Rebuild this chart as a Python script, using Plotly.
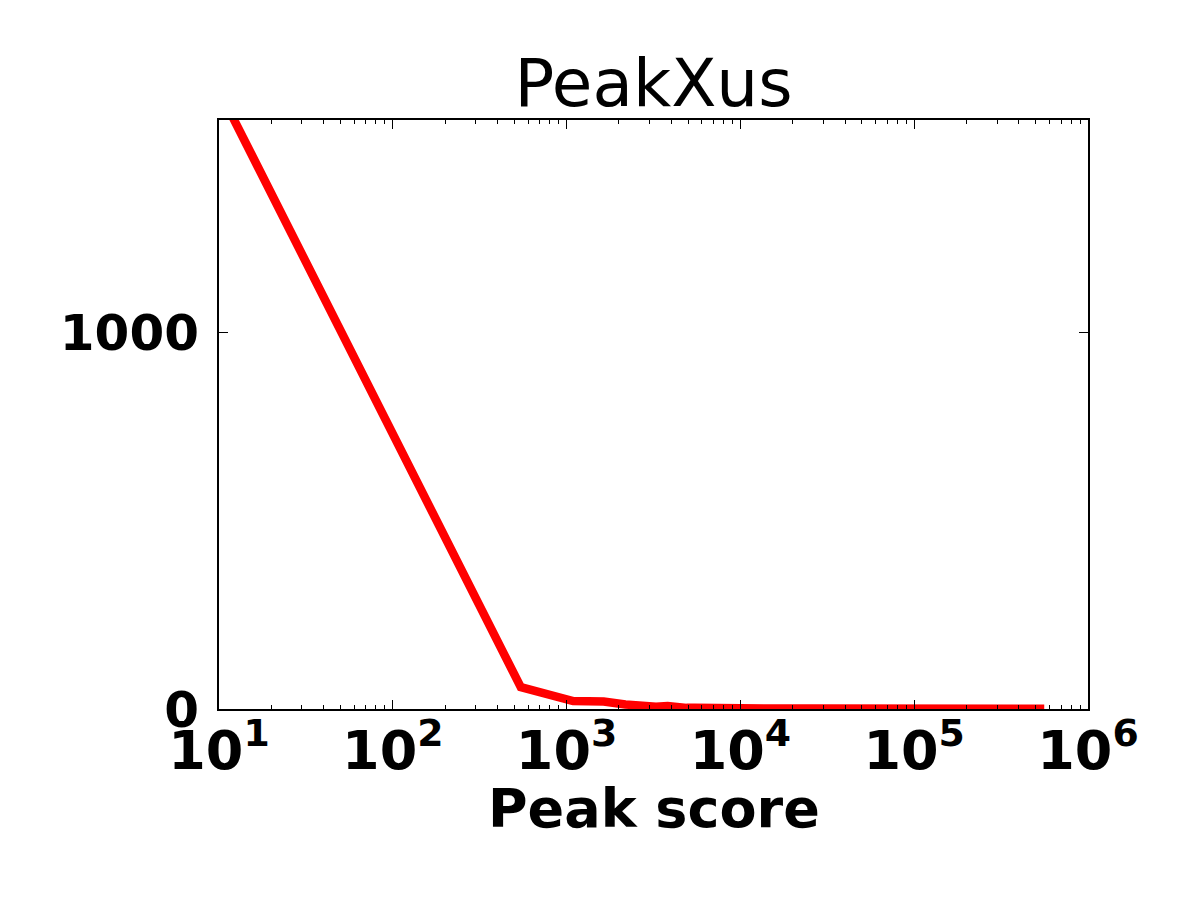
import plotly.graph_objects as go

# Data: peak score bin centers and counts
peak_score = [1, 545, 1090, 1635, 2180, 2725, 3270, 3815, 4360, 4905, 5450,
              6540, 7630, 8720, 9810, 15000, 25000, 40000, 70000, 100000,
              200000, 350000, 560000]
counts = [2560, 58, 21, 20, 12, 7, 6, 8, 4, 3, 3,
          2, 3, 1, 1, 1, 1, 0.5, 1, 0.5, 0.5, 0.5, 0.5]

x_tick_vals = [10, 100, 1000, 10000, 100000, 1000000]
x_tick_text = ["10<sup>1</sup>", "10<sup>2</sup>", "10<sup>3</sup>",
               "10<sup>4</sup>", "10<sup>5</sup>", "10<sup>6</sup>"]
y_tick_vals = [0, 1000]
y_tick_text = ["0", "1000"]

minor_vals = [m * 10 ** e for e in range(1, 6) for m in range(2, 10)]

font_bold = "DejaVu Sans"

fig = go.Figure()
fig.add_trace(go.Scatter(x=peak_score, y=counts, mode="lines",
                         line=dict(color="#ff0000", width=8.5),
                         showlegend=False, hoverinfo="skip"))

fig.update_layout(
    width=1200, height=900,
    margin=dict(l=211, r=120, t=112, b=199, autoexpand=False),
    paper_bgcolor="white", plot_bgcolor="white",
    title=dict(text="PeakXus", x=0.5, xanchor="center", xref="paper",
               y=1, yref="paper", yanchor="bottom", pad=dict(b=14),
               automargin=False,
               font=dict(family="DejaVu Sans", size=66, color="black")),
    font=dict(family=font_bold, color="black"),
    annotations=[dict(text="<b>Peak score</b>", x=0.5, xref="paper",
                      y=0, yref="paper", yshift=-99, yanchor="middle",
                      xanchor="center", showarrow=False,
                      font=dict(family=font_bold, size=54, color="black"))],
)

fig.update_xaxes(
    type="log", range=[1, 6], automargin=False,
    tickmode="array", tickvals=x_tick_vals, ticktext=x_tick_text,
    tickfont=dict(family=font_bold, size=54, weight="bold", color="black"),
    ticks="inside", ticklen=9, tickwidth=1, tickcolor="black",
    ticklabelstandoff=-7,
    minor=dict(tickmode="array", tickvals=minor_vals, ticks="inside",
               ticklen=4, tickwidth=1, tickcolor="black", showgrid=False),
    showline=True, linecolor="black", linewidth=2, mirror="ticks",
    showgrid=False, zeroline=False,
)

fig.update_yaxes(
    range=[0, 1566], automargin=False,
    tickmode="array", tickvals=y_tick_vals, ticktext=y_tick_text,
    tickfont=dict(family=font_bold, size=50, weight="bold", color="black"),
    ticks="inside", ticklen=9, tickwidth=1, tickcolor="black",
    ticklabelstandoff=8,
    showline=True, linecolor="black", linewidth=2, mirror="ticks",
    showgrid=False, zeroline=False,
)

fig.write_html("out.html")
